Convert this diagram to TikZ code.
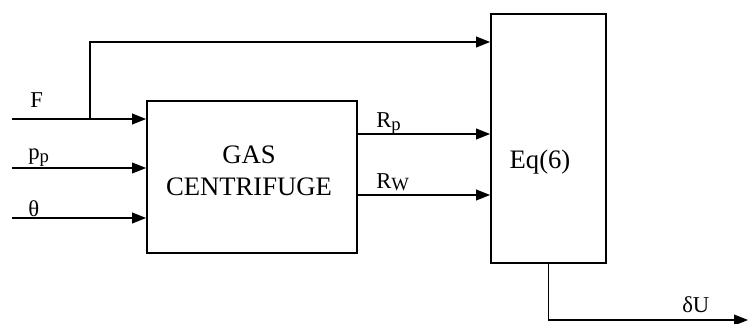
\documentclass[tikz,border=0pt]{standalone}
\usepackage{fontspec}
\setmainfont{Liberation Serif}
\usetikzlibrary{arrows.meta}
\newcommand{\lowsub}[1]{\raisebox{-2pt}{\fontsize{14}{14}\selectfont #1}}
\tikzset{
  block/.style={draw, line width=1.3pt, inner sep=0pt},
  sig/.style={-{Triangle[length=10.5pt,width=8pt]}, line width=1.3pt},
  tag/.style={anchor=base west, inner sep=0pt, font=\fontsize{17}{20}\selectfont},
  big/.style={align=center, font=\fontsize{20}{24}\selectfont}
}

\begin{document}
\begin{tikzpicture}[x=0.75pt,y=-0.75pt]
  \useasboundingbox (0,0) rectangle (749,324);

  \node[block, minimum width=157.5pt, minimum height=114pt] (gas) at (252,177) {};
  \node[big] (gastext) at (249,171) {GAS\\CENTRIFUGE};
  \node[block, minimum width=86.25pt, minimum height=186.75pt] (eq) at (548.5,138.5) {};
  \node[big] (eqtext) at (540,162) {Eq(6)};

  \coordinate (inF) at (12,119);
  \coordinate (inP) at (12,168);
  \coordinate (inT) at (12,218);
  \coordinate (split) at (90,119);
  \coordinate (top) at (0,42);
  \coordinate (rp) at (0,134);
  \coordinate (rw) at (0,195);
  \coordinate (out) at (748,320);

  \draw[sig] (inF) -- (inF -| gas.west);
  \draw[sig] (inP) -- (inP -| gas.west);
  \draw[sig] (inT) -- (inT -| gas.west);
  \draw[sig] (split) |- (eq.west |- top);
  \draw[sig] (gas.east |- rp) -- (eq.west |- rp);
  \draw[sig] (gas.east |- rw) -- (eq.west |- rw);
  \draw[sig] (eq.south) |- (out);

  \node[tag] (lF) at (30,108) {F};
  \node[tag] (lP) at (28,160) {p\lowsub{p}};
  \node[tag] (lT) at (28,216) {θ};
  \node[tag] (lRp) at (376,128) {R\lowsub{p}};
  \node[tag] (lRw) at (376,188) {R\lowsub{W}};
  \node[tag] (lU) at (682,312) {δU};
\end{tikzpicture}
\end{document}
